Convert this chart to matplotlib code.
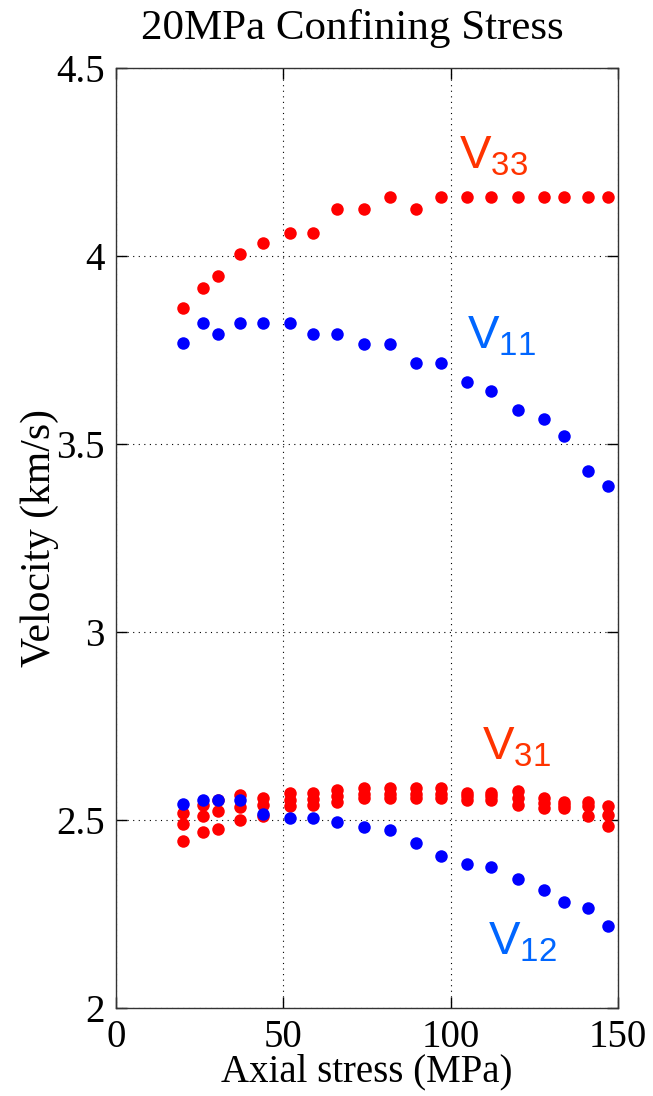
import matplotlib.pyplot as plt

plt.rcParams['font.family'] = 'Liberation Serif'
plt.rcParams['mathtext.fontset'] = 'custom'
plt.rcParams['mathtext.rm'] = 'Liberation Sans'
plt.rcParams['mathtext.it'] = 'Liberation Sans'

# axial stress (MPa)
stress = [20, 26, 30.5, 37, 44, 52, 59, 66, 74, 82, 89.5, 97,
          105, 112, 120, 128, 134, 141, 147]

v33 = [3.862, 3.915, 3.946, 4.004, 4.035, 4.062, 4.062, 4.126, 4.126, 4.157,
       4.126, 4.157, 4.157, 4.157, 4.157, 4.157, 4.157, 4.157, 4.157]
v11 = [3.768, 3.821, 3.793, 3.821, 3.821, 3.821, 3.793, 3.793, 3.767, 3.767,
       3.715, 3.715, 3.664, 3.641, 3.590, 3.566, 3.521, 3.429, 3.388]
v12 = [2.543, 2.554, 2.554, 2.554, 2.517, 2.506, 2.506, 2.494, 2.482, 2.473,
       2.440, 2.404, 2.384, 2.375, 2.344, 2.313, 2.282, 2.266, 2.219]
# three shear-wave branches plotted in red
v31_a = [2.519, 2.541, 2.553, 2.567, 2.558, 2.572, 2.572, 2.581, 2.585, 2.585,
         2.585, 2.585, 2.572, 2.572, 2.576, 2.558, 2.549, 2.549, 2.536]
v31_b = [2.490, 2.510, 2.524, 2.535, 2.541, 2.554, 2.556, 2.565, 2.570, 2.570,
         2.570, 2.570, 2.563, 2.563, 2.558, 2.545, 2.540, 2.536, 2.514]
v31_c = [2.443, 2.467, 2.476, 2.499, 2.510, 2.536, 2.541, 2.548, 2.558, 2.558,
         2.558, 2.558, 2.554, 2.554, 2.541, 2.532, 2.532, 2.510, 2.483]

red = '#ff0000'
blue = '#0000ff'
lab_red = '#ff3300'
lab_blue = '#0066ff'

fig = plt.figure(figsize=(6.53, 10.96), dpi=100)
ax = fig.add_axes([0.1776, 0.0803, 0.7688, 0.8577])

ms = 9
for series in (v33, v31_a, v31_b, v31_c):
    ax.plot(stress, series, 'o', color=red, markersize=ms, markeredgewidth=0)
for series in (v11, v12):
    ax.plot(stress, series, 'o', color=blue, markersize=ms, markeredgewidth=0)

ax.set_xlim(0, 150)
ax.set_ylim(2, 4.5)
ax.set_xticks([0, 50, 100, 150])
ax.set_yticks([2, 2.5, 3, 3.5, 4, 4.5])
ax.set_yticklabels(['2', '2.5', '3', '3.5', '4', '4.5'])
ax.grid(True, color='black', linestyle=(0, (1, 4)), linewidth=0.8)
ax.tick_params(direction='in', length=8, width=1, top=True, right=True,
               labelsize=28)
ax.tick_params(axis='x', pad=8)
ax.tick_params(axis='y', pad=8)
for s in ax.spines.values():
    s.set_color('#333333')
    s.set_linewidth(1)

ax.set_title('20MPa Confining Stress', fontsize=31, pad=21, x=0.47)
ax.set_xlabel('Axial stress (MPa)', fontsize=28, labelpad=-2)
ax.set_ylabel('Velocity (km/s)', fontsize=30, labelpad=-2)

lab_kw = dict(fontsize=34, ha='left', va='baseline')
ax.text(102.5, 4.233, r'$\mathrm{V}_{33}$', color=lab_red, **lab_kw)
ax.text(104.9, 3.755, r'$\mathrm{V}_{11}$', color=lab_blue, **lab_kw)
ax.text(109.4, 2.660, r'$\mathrm{V}_{31}$', color=lab_red, **lab_kw)
ax.text(111.1, 2.142, r'$\mathrm{V}_{12}$', color=lab_blue, **lab_kw)

fig.savefig('out.png', dpi=100)
